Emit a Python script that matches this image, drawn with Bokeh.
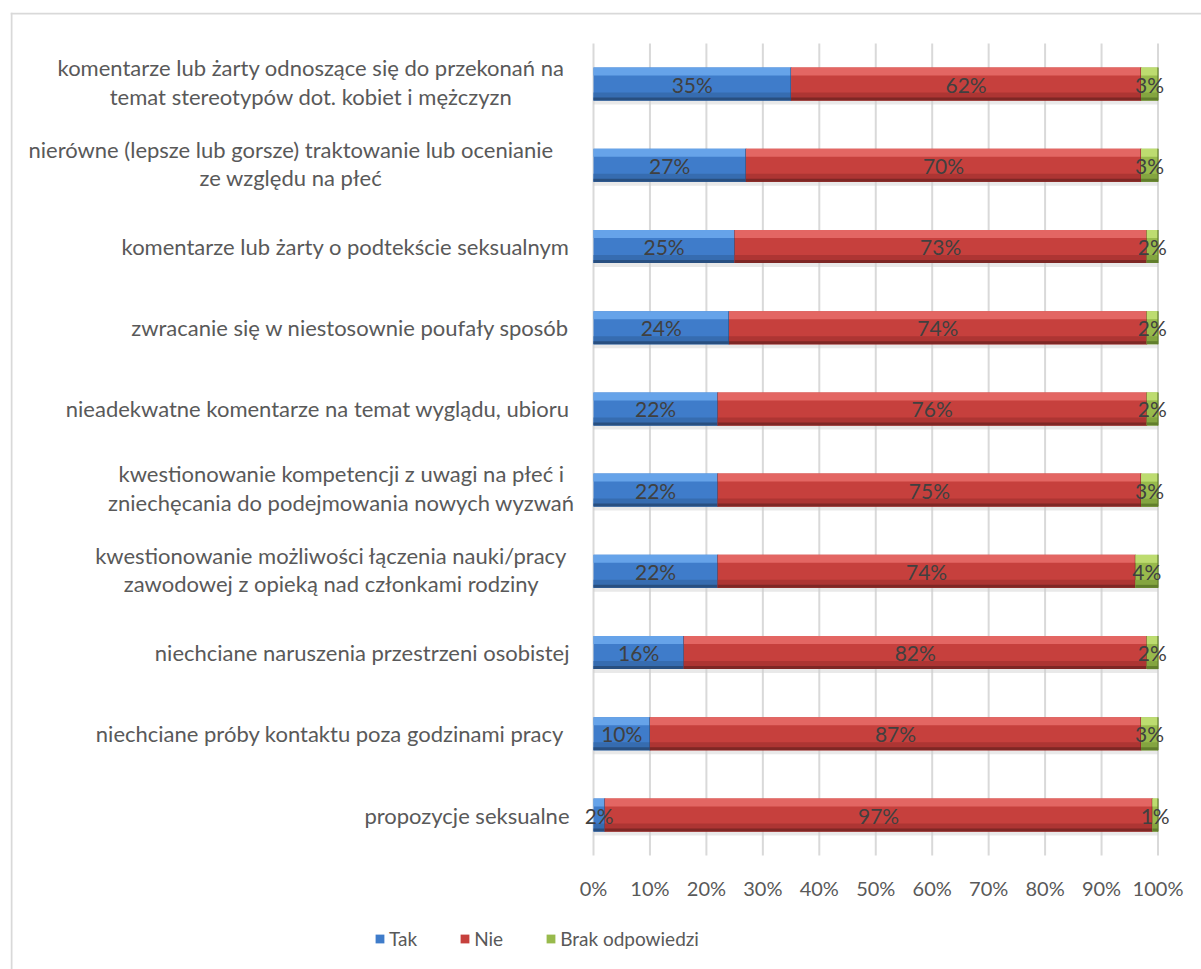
from bokeh.plotting import figure
from bokeh.models import (ColumnDataSource, LinearAxis, FixedTicker, NumeralTickFormatter,
                          Span, Legend, LegendItem)
from bokeh.core.properties import value
from bokeh.embed import file_html
from bokeh.resources import INLINE

# ---------------- data (top to bottom as in the chart) ----------------
categories = [
    "komentarze lub żarty odnoszące się do przekonań na\ntemat stereotypów dot. kobiet i mężczyzn",
    "nierówne (lepsze lub gorsze) traktowanie lub ocenianie\nze względu na płeć",
    "komentarze lub żarty o podtekście seksualnym",
    "zwracanie się w niestosownie poufały sposób",
    "nieadekwatne komentarze na temat wyglądu, ubioru",
    "kwestionowanie kompetencji z uwagi na płeć i\nzniechęcania do podejmowania nowych wyzwań",
    "kwestionowanie możliwości łączenia nauki/pracy\nzawodowej z opieką nad członkami rodziny",
    "niechciane naruszenia przestrzeni osobistej",
    "niechciane próby kontaktu  poza godzinami pracy",
    "propozycje seksualne",
]
tak = [35, 27, 25, 24, 22, 22, 22, 16, 10, 2]
nie = [62, 70, 73, 74, 76, 75, 74, 82, 87, 97]
brak = [3, 3, 2, 2, 2, 3, 4, 2, 3, 1]
series_names = ["Tak", "Nie", "Brak odpowiedzi"]
tick_values = [0, 10, 20, 30, 40, 50, 60, 70, 80, 90, 100]

# ---------------- layout constants ----------------
W, H = 1201, 969
FRAME_L, FRAME_T = 10, 12
PX0, PX100 = 593.0, 1157.5          # pixel of 0% and 100%
SX = PX100 - PX0                    # px per unit (fraction)
Y_TOP_PX, Y_BOT_PX = 83.5, 814.5    # centres of top and bottom bars
n = len(categories)
SY = (Y_BOT_PX - Y_TOP_PX) / (n - 1)

x_start = (FRAME_L - PX0) / SX
x_end = 1 + (W - PX100) / SX
y_end = (n - 1) + (Y_TOP_PX - FRAME_T) / SY
y_start = -(H - Y_BOT_PX) / SY

BAR_H = 33 / SY
FONT = "Lato"

ypos = [n - 1 - i for i in range(n)]
series = [tak, nie, brak]
fr = [[v / 100 for v in s] for s in series]
lefts, rights = [], []
acc = [0.0] * n
for s in fr:
    lefts.append(list(acc))
    acc = [a + v for a, v in zip(acc, s)]
    rights.append(list(acc))

palettes = [
    # mid, light(top), lower-mid, dark(bottom edge)
    ("#3f7cca", "#66a3e9", "#366cb0", "#284f80"),
    ("#c6403d", "#e36663", "#ad3533", "#7e2725"),
    ("#98ba4c", "#bddc70", "#84a540", "#617e2c"),
]

p = figure(width=W, height=H, x_range=(x_start, x_end), y_range=(y_start, y_end),
           x_axis_type=None, y_axis_type=None, toolbar_location=None,
           output_backend="svg", min_border_left=FRAME_L, min_border_top=FRAME_T,
           min_border_right=0, min_border_bottom=0)
p.outline_line_color = None
p.background_fill_color = "white"
p.border_fill_color = "white"

# chart border (left & top visible in the window)
p.add_layout(Span(location=x_start + 1.0 / SX, dimension="height", line_color="#d9d9d9", line_width=2))
p.add_layout(Span(location=y_end - 1.0 / SY, dimension="width", line_color="#d9d9d9", line_width=2))

# vertical grid lines spanning the category band
gx = [t / 100 for t in tick_values]
p.segment(x0=gx, x1=gx, y0=[-0.5] * len(gx), y1=[n - 0.5] * len(gx),
          line_color="#d9d9d9", line_width=2)

# faint shadow under each bar
sh = 4 / SY
p.hbar(y=[v - BAR_H / 2 - sh / 2 for v in ypos], left=[0] * n, right=rights[-1], height=sh,
       fill_color="#cfcfcf", fill_alpha=0.45, line_color=None)

# bars with a bevel-like shading
main_renderers = []
for k, name in enumerate(series_names):
    mid, light, lowmid, dark = palettes[k]
    src = ColumnDataSource(dict(y=ypos, left=lefts[k], right=rights[k]))
    r = p.hbar(y="y", left="left", right="right", height=BAR_H, source=src,
               fill_color=mid, line_color=None)
    main_renderers.append(r)
    # light top band
    hb = 8 / SY
    src_t = ColumnDataSource(dict(y=[v + BAR_H / 2 - hb / 2 for v in ypos], left=lefts[k], right=rights[k]))
    p.hbar(y="y", left="left", right="right", height=hb, source=src_t,
           fill_color=light, line_color=None)
    # lower darker band
    hl = 8 / SY
    src_l = ColumnDataSource(dict(y=[v - BAR_H / 2 + hl / 2 for v in ypos], left=lefts[k], right=rights[k]))
    p.hbar(y="y", left="left", right="right", height=hl, source=src_l,
           fill_color=lowmid, line_color=None)
    # dark bottom edge
    he = 3 / SY
    src_e = ColumnDataSource(dict(y=[v - BAR_H / 2 + he / 2 for v in ypos], left=lefts[k], right=rights[k]))
    p.hbar(y="y", left="left", right="right", height=he, source=src_e,
           fill_color=dark, line_color=None)
    # segment separator
    p.segment(x0=rights[k], x1=rights[k], y0=[v - BAR_H / 2 for v in ypos],
              y1=[v + BAR_H / 2 for v in ypos], line_color=dark, line_width=1.2)

# data labels
for k in range(3):
    cx = [(a + b) / 2 for a, b in zip(lefts[k], rights[k])]
    txt = [f"{v}%" for v in series[k]]
    p.text(x=cx, y=ypos, text=txt, text_align="center", text_baseline="middle",
           text_font=value(FONT), text_font_size="21px", text_color="#404040")

# category labels
LABEL_SIZE = 22
EDGE = (569 - PX0) / SX
EDGE_M = (563 - PX0) / SX
CW = 10.1  # approx px per char of label font
single_x, single_y, single_t = [], [], []
multi_x, multi_y, multi_t = [], [], []
for c, yv in zip(categories, ypos):
    lines = c.split("\n")
    if len(lines) == 1:
        single_x.append(EDGE); single_y.append(yv); single_t.append(c)
    else:
        w = max(len(l) for l in lines) * CW / SX
        multi_x.append(EDGE_M - w / 2); multi_y.append(yv + 2 / SY); multi_t.append(c)
p.text(x=single_x, y=single_y, text=single_t, text_align="right", text_baseline="middle",
       text_font=value(FONT), text_font_size=f"{LABEL_SIZE}px", text_color="#595959")
p.text(x=multi_x, y=multi_y, text=multi_t, text_align="center", text_baseline="middle",
       text_font=value(FONT), text_font_size=f"{LABEL_SIZE}px", text_color="#595959",
       text_line_height=1.05)

# x axis placed inside the frame
xaxis = LinearAxis(fixed_location=-0.5, ticker=FixedTicker(ticks=gx),
                   formatter=NumeralTickFormatter(format="0%"))
xaxis.axis_line_color = None
xaxis.major_tick_line_color = None
xaxis.minor_tick_line_color = None
xaxis.major_tick_in = 0
xaxis.major_tick_out = 0
xaxis.major_label_standoff = 20
xaxis.major_label_text_font = FONT
xaxis.major_label_text_font_size = "20px"
xaxis.major_label_text_color = "#595959"
p.add_layout(xaxis, "below")

legend = Legend(items=[LegendItem(label=nm, renderers=[r]) for nm, r in zip(series_names, main_renderers)],
                orientation="horizontal", location=(364, 19))
legend.border_line_color = None
legend.background_fill_alpha = 0
legend.padding = 0
legend.margin = 0
legend.spacing = 42
legend.label_standoff = 4
legend.glyph_width = 11
legend.glyph_height = 11
legend.label_text_font = FONT
legend.label_text_font_size = "19px"
legend.label_text_color = "#595959"
p.add_layout(legend)

open("out.html", "w").write(file_html(p, INLINE))
